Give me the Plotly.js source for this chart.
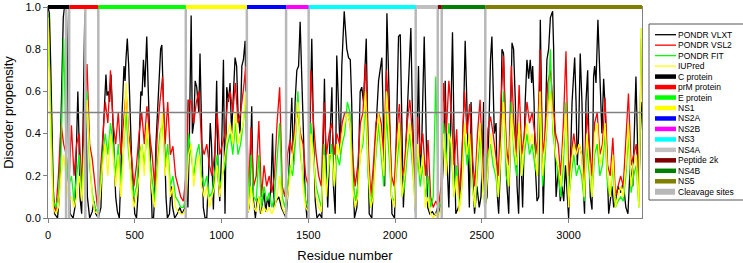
<!DOCTYPE html>
<html>
<head>
<meta charset="utf-8">
<script src="https://cdn.plot.ly/plotly-3.0.1.min.js"></script>
<style>html,body{margin:0;padding:0;background:#fff;}#chart{width:743px;height:263px;}</style>
</head>
<body>
<div id="chart"></div>
<script>
// ---------------- DATA ----------------
// PONDR VLXT: residue positions and disorder scores (peaks/valleys)
const vlxtRes = [
0,8,15,22,30,38,55,65,72,80,
88,95,105,110,115,120,128,145,155,162,
172,178,184,194,204,212,219,227,240,255,
265,275,290,305,315,325,334,340,348,355,
363,372,380,390,400,411,420,427,438,444,
449,457,465,472,481,490,500,510,518,525,
535,542,550,558,569,578,585,592,600,608,
615,622,634,642,649,656,663,673,680,688,
700,710,718,730,745,760,772,790,795,800,
806,815,825,832,840,848,857,863,869,876,
884,895,905,915,925,935,942,953,965,972,
980,990,1000,1011,1020,1030,1040,1049,1058,1068,
1078,1087,1095,1107,1117,1126,1136,1142,1148,1160,
1174,1182,1195,1205,1215,1225,1235,1245,1255,1265,
1275,1285,1294,1303,1315,1330,1345,1360,1372,1385,
1395,1405,1415,1424,1434,1444,1453,1462,1472,1482,
1492,1505,1520,1530,1540,1550,1565,1578,1593,1601,
1612,1626,1636,1645,1655,1664,1674,1684,1693,1707,
1722,1732,1742,1750,1757,1766,1780,1789,1799,1808,
1818,1828,1834,1843,1851,1866,1876,1886,1895,1905,
1915,1924,1934,1940,1946,1953,1962,1972,1982,1997,
2010,2020,2030,2038,2048,2060,2075,2091,2100,2110,
2118,2125,2135,2145,2155,2168,2178,2188,2200,2215,
2230,2245,2255,2268,2280,2289,2298,2310,2322,2331,
2340,2350,2365,2380,2395,2404,2412,2420,2428,2438,
2447,2458,2472,2485,2495,2504,2510,2516,2530,2540,
2550,2558,2565,2572,2582,2590,2597,2607,2616,2625,
2635,2645,2655,2665,2674,2683,2693,2703,2712,2722,
2735,2750,2760,2770,2779,2787,2793,2801,2808,2818,
2828,2837,2845,2854,2865,2875,2885,2895,2908,2914,
2920,2928,2942,2952,2962,2972,2982,2992,3000,3010,
3020,3035,3043,3050,3058,3067,3077,3087,3092,3100,
3110,3116,3125,3135,3144,3150,3158,3169,3177,3185,
3192,3202,3212,3222,3231,3240,3250,3260,3270,3285,
3300,3315,3330,3342,3355,3370,3380,3388,3396,3404,
3413,3423];
const vlxtVal = [
1.0,0.97,0.75,0.45,0.15,0.02,0.0,0.1,0.35,0.65,
0.95,1.0,1.0,0.85,0.6,0.2,0.02,0.0,0.05,0.3,
0.6,0.4,0.1,0.02,0.5,0.97,0.5,0.1,0.0,0.03,
0.08,0.02,0.0,0.05,0.35,0.55,0.68,0.58,0.6,0.55,
0.68,0.5,0.3,0.1,0.03,0.0,0.2,0.5,0.72,0.65,
0.75,0.85,0.72,0.5,0.3,0.15,0.02,0.0,0.1,0.35,
0.6,0.58,0.75,0.62,0.86,0.6,0.4,0.15,0.0,0.0,
0.1,0.35,0.55,0.75,0.8,0.82,0.6,0.3,0.1,0.0,
0.02,0.15,0.05,0.0,0.02,0.05,0.02,0.05,0.3,0.56,
0.05,0.4,0.96,0.4,0.45,0.65,0.62,0.57,0.5,0.78,
0.4,0.05,0.0,0.0,0.2,0.45,0.35,0.04,0.4,0.65,
0.2,0.08,0.3,0.75,0.02,0.62,0.55,0.64,0.4,0.6,
0.76,0.72,0.5,0.4,0.72,0.75,0.84,0.5,0.02,0.05,
0.53,0.1,0.0,0.08,0.1,0.02,0.08,0.12,0.03,0.1,
0.05,0.15,0.4,0.05,0.08,0.1,0.05,0.02,0.0,0.15,
0.35,0.57,0.25,0.55,0.7,0.72,0.93,0.72,0.4,0.1,
0.0,0.25,0.85,0.4,0.08,0.0,0.02,0.0,0.66,0.3,
0.05,0.4,0.62,0.15,0.02,0.77,0.5,0.3,0.72,0.98,
0.8,0.76,0.75,0.55,0.25,0.0,0.05,0.25,0.6,0.62,
0.55,0.8,0.85,0.4,0.02,0.0,0.2,0.35,0.5,0.65,
0.72,0.76,0.4,0.15,0.5,0.97,0.7,0.3,0.02,0.0,
0.5,0.86,0.87,0.5,0.05,0.3,0.6,0.9,0.5,0.2,
0.02,0.3,0.72,0.2,0.4,0.86,0.4,0.05,0.02,0.03,
0.01,0.05,0.02,0.1,0.3,0.65,0.3,0.05,0.5,0.88,
0.4,0.02,0.05,0.15,0.5,0.84,0.6,0.25,0.05,0.55,
0.2,0.02,0.15,0.05,0.1,0.3,0.55,0.05,0.1,0.4,
0.75,0.86,0.6,0.4,0.45,0.1,0.02,0.25,0.8,0.78,
0.45,0.15,0.02,0.55,0.83,0.8,0.55,0.15,0.02,0.4,
0.05,0.55,0.75,0.66,0.75,0.64,0.72,0.55,0.25,0.08,
0.1,0.94,0.4,0.02,0.4,0.75,0.8,0.95,0.98,0.8,
0.4,0.1,0.25,0.08,0.15,0.08,0.25,0.08,0.0,0.25,
0.55,0.76,0.55,0.25,0.4,0.78,0.55,0.1,0.02,0.55,
0.7,0.4,0.1,0.04,0.67,0.72,0.64,0.94,0.72,0.56,
0.4,0.66,0.5,0.25,0.02,0.08,0.15,0.05,0.08,0.15,
0.12,0.17,0.05,0.02,0.25,0.15,0.5,0.67,0.4,0.08,
0.4,0.55];

// Other predictors, read every 15 residues (residue 0, 15, 30, ... 3420)
const sampleStart = 0, sampleStep = 15;
const vsl2Val = [
0.97,0.55,0.1,0.03,0.2,0.45,0.35,0.3,0.15,0.44,
0.2,0.35,0.4,0.15,0.5,0.73,0.35,0.28,0.15,0.05,
0.2,0.4,0.55,0.45,0.7,0.45,0.35,0.5,0.3,0.45,
0.6,0.4,0.3,0.15,0.25,0.4,0.5,0.35,0.53,0.4,
0.3,0.15,0.4,0.55,0.67,0.35,0.55,0.3,0.34,0.2,
0.15,0.1,0.08,0.2,0.56,0.55,0.45,0.55,0.6,0.35,
0.3,0.35,0.25,0.2,0.3,0.5,0.3,0.35,0.4,0.55,
0.6,0.5,0.64,0.45,0.5,0.6,0.72,0.1,0.43,0.15,
0.2,0.46,0.1,0.25,0.15,0.2,0.12,0.2,0.45,0.62,
0.15,0.1,0.3,0.37,0.3,0.45,0.5,0.4,0.35,0.2,
0.15,0.7,0.45,0.3,0.2,0.15,0.55,0.3,0.4,0.45,
0.3,0.4,0.35,0.45,0.5,0.5,0.45,0.3,0.15,0.25,
0.45,0.5,0.73,0.35,0.1,0.25,0.45,0.5,0.45,0.3,
0.7,0.5,0.2,0.15,0.4,0.54,0.2,0.25,0.45,0.56,
0.4,0.15,0.48,0.3,0.4,0.2,0.37,0.1,0.05,0.08,
0.05,0.15,0.64,0.4,0.65,0.5,0.25,0.42,0.1,0.3,
0.6,0.4,0.54,0.3,0.15,0.4,0.56,0.25,0.1,0.42,
0.48,0.4,0.3,0.2,0.55,0.77,0.35,0.25,0.72,0.45,
0.3,0.63,0.3,0.4,0.55,0.45,0.5,0.4,0.3,0.8,
0.3,0.4,0.64,0.7,0.55,0.4,0.35,0.2,0.45,0.79,
0.2,0.3,0.4,0.3,0.35,0.3,0.15,0.5,0.35,0.2,
0.45,0.5,0.3,0.35,0.57,0.25,0.2,0.38,0.1,0.15,
0.2,0.15,0.35,0.59,0.25,0.3,0.35,0.1,0.85];
const fitVal = [
0.97,0.5,0.08,0.05,0.1,0.3,0.85,0.3,0.15,0.2,
0.08,0.2,0.3,0.1,0.35,0.6,0.25,0.12,0.05,0.03,
0.15,0.3,0.4,0.3,0.45,0.35,0.2,0.35,0.15,0.35,
0.5,0.3,0.2,0.1,0.15,0.3,0.35,0.25,0.4,0.3,
0.2,0.08,0.25,0.4,0.45,0.25,0.35,0.15,0.2,0.1,
0.08,0.05,0.05,0.1,0.4,0.3,0.2,0.3,0.35,0.2,
0.15,0.2,0.1,0.12,0.2,0.3,0.15,0.2,0.25,0.35,
0.4,0.3,0.45,0.3,0.35,0.45,0.55,0.05,0.3,0.1,
0.08,0.3,0.05,0.15,0.08,0.12,0.05,0.1,0.3,0.45,
0.1,0.05,0.15,0.25,0.2,0.35,0.6,0.3,0.2,0.08,
0.05,0.45,0.3,0.15,0.1,0.05,0.35,0.15,0.25,0.35,
0.15,0.3,0.25,0.35,0.4,0.55,0.5,0.2,0.08,0.15,
0.3,0.35,0.55,0.2,0.05,0.15,0.3,0.45,0.3,0.15,
0.5,0.3,0.1,0.08,0.25,0.4,0.1,0.15,0.3,0.4,
0.25,0.08,0.3,0.15,0.25,0.1,0.2,0.05,0.1,0.67,
0.05,0.08,0.45,0.25,0.45,0.3,0.1,0.25,0.05,0.15,
0.4,0.25,0.35,0.15,0.05,0.25,0.4,0.15,0.05,0.3,
0.35,0.25,0.2,0.1,0.3,0.6,0.2,0.15,0.55,0.3,
0.2,0.45,0.2,0.3,0.4,0.3,0.35,0.25,0.2,0.6,
0.15,0.3,0.5,0.8,0.4,0.3,0.2,0.1,0.25,0.55,
0.1,0.2,0.3,0.2,0.25,0.2,0.08,0.35,0.2,0.1,
0.3,0.35,0.2,0.25,0.4,0.15,0.1,0.25,0.05,0.08,
0.1,0.08,0.2,0.4,0.12,0.2,0.25,0.05,0.9];
const iupredVal = [
0.95,0.4,0.05,0.02,0.05,0.2,0.3,0.2,0.08,0.1,
0.05,0.1,0.2,0.08,0.3,0.56,0.3,0.1,0.03,0.02,
0.1,0.25,0.35,0.2,0.4,0.3,0.15,0.3,0.1,0.3,
0.64,0.35,0.15,0.05,0.1,0.2,0.35,0.2,0.45,0.25,
0.12,0.05,0.2,0.35,0.5,0.2,0.3,0.1,0.15,0.05,
0.03,0.02,0.02,0.05,0.3,0.35,0.15,0.25,0.3,0.15,
0.1,0.15,0.05,0.1,0.15,0.25,0.1,0.2,0.3,0.4,
0.45,0.35,0.5,0.35,0.4,0.45,0.6,0.03,0.15,0.05,
0.03,0.1,0.02,0.05,0.03,0.05,0.02,0.05,0.1,0.2,
0.05,0.02,0.1,0.2,0.3,0.4,0.55,0.35,0.15,0.05,
0.03,0.4,0.3,0.1,0.05,0.03,0.3,0.1,0.3,0.3,
0.15,0.35,0.3,0.4,0.45,0.5,0.45,0.15,0.05,0.1,
0.3,0.4,0.6,0.25,0.05,0.1,0.35,0.5,0.35,0.2,
0.6,0.4,0.1,0.05,0.3,0.45,0.1,0.2,0.35,0.45,
0.3,0.05,0.35,0.2,0.3,0.05,0.1,0.02,0.0,0.02,
0.0,0.05,0.4,0.2,0.4,0.35,0.1,0.2,0.03,0.15,
0.45,0.3,0.4,0.15,0.05,0.3,0.45,0.15,0.05,0.25,
0.4,0.3,0.25,0.1,0.35,0.55,0.3,0.15,0.5,0.35,
0.25,0.45,0.2,0.35,0.45,0.35,0.4,0.3,0.2,0.6,
0.2,0.35,0.5,0.6,0.45,0.3,0.25,0.15,0.35,0.5,
0.05,0.25,0.35,0.3,0.35,0.3,0.1,0.4,0.25,0.1,
0.4,0.45,0.25,0.3,0.45,0.2,0.1,0.3,0.05,0.1,
0.15,0.1,0.25,0.45,0.15,0.25,0.3,0.05,0.9];

const seriesNames = ['PONDR VLXT','PONDR VSL2','PONDR FIT','IUPred'];

// Protein regions of the polyprotein (residue ranges)
const domainNames = ['C protein','prM protein','E protein','NS1','NS2A','NS2B','NS3','NS4A','Peptide 2k','NS4B','NS5'];
const domainStart = [0,123,291,795,1147,1373,1503,2120,2247,2270,2521];
const domainEnd   = [122,290,794,1146,1372,1502,2119,2246,2269,2520,3423];
const cleavageSites = [104,122,215,290,794,1146,1372,1502,2119,2246,2269,2520];
const threshold = 0.5;
const xTicks = [0,500,1000,1500,2000,2500,3000];
const yTicks = [0,0.2,0.4,0.6,0.8,1.0];

// ---------------- STYLE ----------------
const seriesColors = ['#000000','#ff0000','#00ff00','#ffff00'];
const domainColors = ['#000000','#ff0000','#00ff00','#ffff00','#0000ff','#ff00ff','#00ffff','#c0c0c0','#800000','#008000','#808000'];
const cleavageColor = '#b8b8b8';
const axisColor = '#808080';
const FONT = 'Arial, "Liberation Sans", sans-serif';
const W = 743, H = 263, M = {l:48, r:101, t:7, b:45};
const pw = W - M.l - M.r, ph = H - M.t - M.b;
const pxX = v => (v - M.l) / pw;
const pxY = v => (H - M.b - v) / ph;

// ---------------- TRACES ----------------
const traces = [];
traces.push({type:'scatter', mode:'lines', x:vlxtRes, y:vlxtVal, name:seriesNames[0],
  line:{color:seriesColors[0], width:1.3}, showlegend:false, hoverinfo:'skip'});
[vsl2Val, fitVal, iupredVal].forEach((vals, i) => {
  traces.push({type:'scatter', mode:'lines', x0:sampleStart, dx:sampleStep, y:vals, name:seriesNames[i+1],
    line:{color:seriesColors[i+1], width:1.3}, showlegend:false, hoverinfo:'skip'});
});
const cx = [], cy = [];
cleavageSites.forEach(c => { cx.push(c, c, null); cy.push(0, 1, null); });
traces.push({type:'scatter', mode:'lines', x:cx, y:cy, name:'Cleavage sites',
  line:{color:cleavageColor, width:2.5}, showlegend:false, hoverinfo:'skip'});

// ---------------- SHAPES / LEGEND ----------------
const shapes = [];
const annotations = [];
shapes.push({type:'line', xref:'paper', yref:'y', x0:0, x1:1, y0:threshold, y1:threshold,
  line:{color:'#808080', width:1.5}, layer:'above'});
domainNames.forEach((n, i) => {
  shapes.push({type:'line', xref:'x', yref:'paper', x0:domainStart[i], x1:domainEnd[i], y0:1, y1:1,
    line:{color:domainColors[i], width:4}, layer:'above'});
});
// manual legend box
shapes.push({type:'rect', xref:'paper', yref:'paper', x0:pxX(649), x1:pxX(748), y0:pxY(200), y1:pxY(24),
  line:{color:'#555555', width:1}, fillcolor:'#ffffff', layer:'above'});
const legNames = seriesNames.concat(domainNames).concat(['Cleavage sites']);
const legColors = seriesColors.concat(domainColors).concat([cleavageColor]);
legNames.forEach((n, i) => {
  const yc = 34.7 + i * 10.47;
  if (i === legNames.length - 1) {
    shapes.push({type:'rect', xref:'paper', yref:'paper', x0:pxX(655), x1:pxX(675), y0:pxY(yc+3), y1:pxY(yc-3),
      line:{width:0}, fillcolor:legColors[i], layer:'above'});
  } else {
    shapes.push({type:'line', xref:'paper', yref:'paper', x0:pxX(655), x1:pxX(676), y0:pxY(yc), y1:pxY(yc),
      line:{color:legColors[i], width: i < 4 ? 1.3 : 4.5}, layer:'above'});
  }
  annotations.push({xref:'paper', yref:'paper', x:pxX(677), y:pxY(yc), xanchor:'left', yanchor:'middle',
    text:n, showarrow:false, font:{family:FONT, size:8.5, color:'#000'}, borderpad:0});
});

const layout = {
  width:W, height:H, margin:M, paper_bgcolor:'#fff', plot_bgcolor:'#fff', showlegend:false,
  font:{family:FONT, color:'#000'},
  xaxis:{range:[0,3423], tickvals:xTicks, ticktext:xTicks.map(String), ticks:'outside', ticklen:4,
    tickcolor:axisColor, linecolor:axisColor, linewidth:1, mirror:true, showgrid:false, zeroline:false,
    tickfont:{size:11, family:FONT}, automargin:false, ticklabelstandoff:3,
    title:{text:'Residue number', font:{size:13, family:FONT}, standoff:14}},
  yaxis:{range:[0,1], tickvals:yTicks, tickformat:'.1f', ticks:'outside', ticklen:4,
    tickcolor:axisColor, linecolor:axisColor, linewidth:1, mirror:true, showgrid:false, zeroline:false,
    tickfont:{size:11, family:FONT}, automargin:false,
    title:{text:'Disorder propensity', font:{size:13, family:FONT}, standoff:8}},
  shapes:shapes, annotations:annotations
};
Plotly.newPlot('chart', traces, layout, {staticPlot:true, displayModeBar:false});
</script>
</body>
</html>
